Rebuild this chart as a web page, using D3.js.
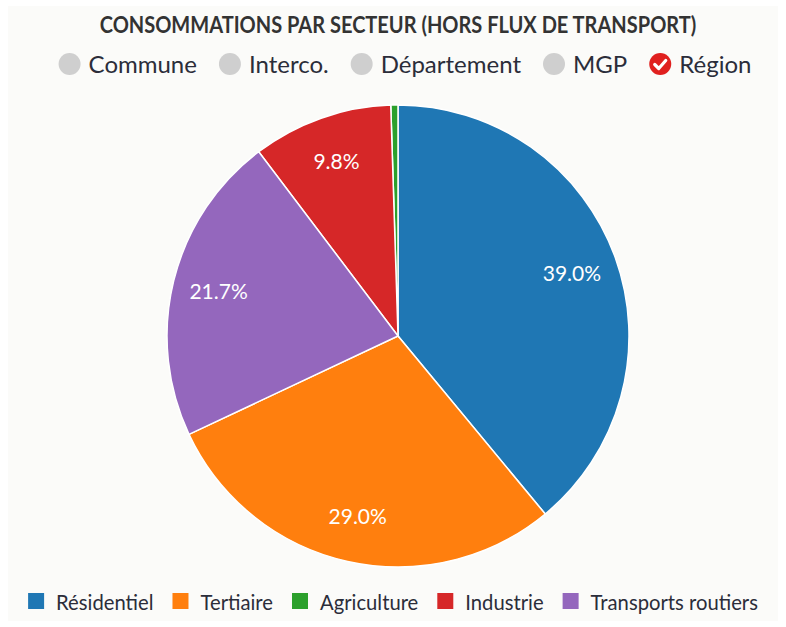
<!DOCTYPE html>
<html>
<head>
<meta charset="utf-8">
<script src="https://cdn.jsdelivr.net/npm/d3@7"></script>
<style>
  body { margin: 0; background: #fff; font-family: Lato, "Open Sans", sans-serif; }
</style>
</head>
<body>
<div id="chart"></div>
<script>
// Data
const sectors = ["Résidentiel", "Tertiaire", "Agriculture", "Industrie", "Transports routiers"];
const shares = [39.0, 29.0, 0.5, 9.8, 21.7];
const colors = ["#1f77b4", "#ff7f0e", "#2ca02c", "#d62728", "#9467bd"];
// clockwise order of the slices from 12 o'clock
const sliceOrder = ["Résidentiel", "Tertiaire", "Transports routiers", "Industrie", "Agriculture"];
const levels = ["Commune", "Interco.", "Département", "MGP", "Région"];
const selectedLevel = "Région";
const title = "CONSOMMATIONS PAR SECTEUR (HORS FLUX DE TRANSPORT)";

const width = 786, height = 627;
const cx = 398, cy = 336, radius = 231;

const svg = d3.select("#chart").append("svg")
    .attr("width", width)
    .attr("height", height);

// panel background
svg.append("rect")
    .attr("x", 8).attr("y", 6)
    .attr("width", width - 16).attr("height", height - 12)
    .attr("fill", "#fbfbf9");

// Title (font is a little narrow in the original, squeeze it)
svg.append("g")
    .attr("transform", `translate(${cx},33) scale(0.91,1)`)
    .append("text")
    .attr("text-anchor", "middle")
    .attr("font-size", 22)
    .attr("font-weight", "bold")
    .attr("fill", "#333")
    .text(title);

// Level selector (radio style)
const radio = svg.append("g").attr("transform", "translate(0,64)");
let rx = 0;
const radioItems = [];
levels.forEach(l => {
    const g = radio.append("g");
    const t = g.append("text")
        .attr("x", 19)
        .attr("y", 9)
        .attr("font-size", 24)
        .attr("fill", "#2b2d3a")
        .text(l);
    const w = t.node().getComputedTextLength();
    if (l === selectedLevel) {
        g.append("circle").attr("r", 11).attr("fill", "#e0201f");
        g.append("path")
            .attr("d", "M-5.5,0.5 L-1.5,4.5 L5.5,-3.5")
            .attr("fill", "none")
            .attr("stroke", "#fff")
            .attr("stroke-width", 3.2)
            .attr("stroke-linecap", "round")
            .attr("stroke-linejoin", "round");
    } else {
        g.append("circle").attr("r", 11).attr("fill", "#cfcfcf");
    }
    radioItems.push({ g, x: rx });
    rx += 19 + w + 33;
});
const radioWidth = rx - 33 + 11;
const radioStart = 405 - radioWidth / 2 + 11;
radioItems.forEach(d => d.g.attr("transform", `translate(${radioStart + d.x},0)`));

// Pie
const valueOf = {};
sectors.forEach((s, i) => valueOf[s] = shares[i]);
const color = d3.scaleOrdinal().domain(sectors).range(colors);

const pie = d3.pie()
    .sort((a, b) => sliceOrder.indexOf(a) - sliceOrder.indexOf(b))
    .value(d => valueOf[d]);

const arc = d3.arc().innerRadius(0).outerRadius(radius);
const labelArc = d3.arc().innerRadius(radius * 0.8).outerRadius(radius * 0.8);

const arcs = pie(sectors);
const pg = svg.append("g").attr("transform", `translate(${cx},${cy})`);

pg.selectAll("path")
    .data(arcs)
    .enter()
    .append("path")
    .attr("d", arc)
    .attr("fill", d => color(d.data))
    .attr("stroke", "#fff")
    .attr("stroke-width", 1.5);

pg.selectAll(".lbl")
    .data(arcs.filter(d => valueOf[d.data] >= 5))
    .enter()
    .append("text")
    .attr("class", "lbl")
    .attr("transform", d => `translate(${labelArc.centroid(d)})`)
    .attr("text-anchor", "middle")
    .attr("dy", "0.35em")
    .attr("font-size", 21)
    .attr("fill", "#fff")
    .text(d => valueOf[d.data].toFixed(1) + "%");

// Sector legend
const legScale = 0.92;
const legend = svg.append("g").attr("transform", "translate(0,602)");
let lx = 0;
const legItems = [];
sectors.forEach(s => {
    const g = legend.append("g");
    g.append("rect")
        .attr("x", 0).attr("y", -9)
        .attr("width", 16).attr("height", 16)
        .attr("fill", color(s));
    const t = g.append("g")
        .attr("transform", `translate(28,8) scale(${legScale},1)`)
        .append("text")
        .attr("font-size", 22)
        .attr("fill", "#2b2d3a")
        .text(s);
    const w = t.node().getComputedTextLength() * legScale;
    legItems.push({ g, x: lx });
    lx += 28 + w + 19;
});
const legWidth = lx - 19;
const legStart = 393 - legWidth / 2;
legItems.forEach(d => d.g.attr("transform", `translate(${legStart + d.x},0)`));
</script>
</body>
</html>
